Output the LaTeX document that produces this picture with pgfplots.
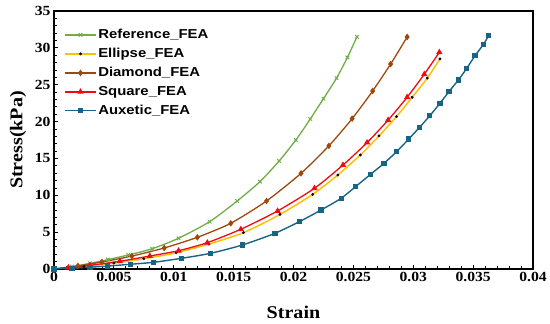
\documentclass[border=0pt]{standalone}
\usepackage{pgfplots}
\pgfplotsset{compat=1.18}
\usepackage{fontspec}
\setmainfont{Liberation Serif}[FakeStretch=1.12]
\newfontfamily\legfont{Liberation Sans}[FakeStretch=1.15]
\definecolor{cref}{HTML}{70AD47}
\definecolor{cell}{HTML}{FFC000}
\definecolor{cdia}{HTML}{9E480E}
\definecolor{csq}{HTML}{F00A14}
\definecolor{caux}{HTML}{176486}
\pgfplotsset{
  LL/.style={legend image code/.code={\draw[mark repeat=2,mark phase=2,##1] plot coordinates {(0cm,0cm) (0.53cm,0cm) (1.06cm,0cm)};}},
}
\begin{document}
\begin{tikzpicture}
\begin{axis}[
  at={(0,0)}, anchor=south west,
  scale only axis, width=479bp, height=258bp,
  xmin=0, xmax=0.04, ymin=0, ymax=35,
  xtick={0,0.005,0.01,0.015,0.02,0.025,0.03,0.035,0.04},
  xticklabels={0,0.005,0.01,0.015,0.02,0.025,0.03,0.035,0.04},
  scaled x ticks=false,
  ytick={0,5,10,15,20,25,30,35},
  minor x tick num=4, minor y tick num=4,
  tick pos=left, tick align=inside,
  major tick length=4bp, minor tick length=3bp,
  tick style={black, line width=0.8pt},
  axis line style={black, line width=1.1pt},
  /pgf/number format/assume math mode=true,
  tick label style={font=\bfseries\fontsize{14}{14}\selectfont},
  xlabel={Strain}, ylabel={Stress(kPa)},
  label style={font=\bfseries\fontsize{18}{18}\selectfont},
  xlabel style={at={(axis description cs:0.5,-0.167)}, anchor=center},
  ylabel style={at={(axis description cs:-0.075,0.5)}, anchor=center},
  legend cell align=left,
  legend style={at={(axis description cs:0.022,0.937)}, anchor=north west,
    draw=none, fill=none, font=\legfont\bfseries\fontsize{13}{13}\selectfont,
    row sep=4.2pt, inner sep=0pt},
  every axis plot/.append style={line width=1.3pt, /tikz/smooth, /tikz/tension=0.4},
]
\addplot[color=cref, line width=1.3pt, mark=x, mark size=2.5pt, mark options={line width=1pt}, LL] coordinates {
(0,0) (0.0015,0.33) (0.003,0.76) (0.0045,1.28) (0.0062,1.9) (0.0082,2.75) (0.0104,4.17) (0.013,6.42) (0.0153,9.23) (0.0172,11.85) (0.0188,14.65) (0.0202,17.5) (0.0214,20.35) (0.0225,23.1) (0.0236,25.9) (0.0245,28.7) (0.0253,31.5)};
\addlegendentry{Reference\_FEA}
\addplot[color=cell, line width=1.5pt, mark=*, mark size=1.3pt, mark options={fill=black, draw=black, line width=0.3pt}, LL] coordinates {
(0,0) (0.0025,0.35) (0.005,0.8) (0.0075,1.4) (0.0102,2.2) (0.01294,3.39) (0.01582,4.93) (0.01887,7.4) (0.02161,10.13) (0.0237,12.75) (0.02558,15.47) (0.02714,18.05) (0.0286,20.67) (0.02991,23.3) (0.03117,25.9) (0.03223,28.5)};
\addlegendentry{Ellipse\_FEA}
\addplot[color=cdia, line width=1.3pt, mark=diamond*, mark size=2.3pt, LL] coordinates {
(0,0) (0.002,0.42) (0.004,0.95) (0.0065,1.75) (0.0092,2.85) (0.01197,4.3) (0.01476,6.2) (0.01775,9.23) (0.02063,12.98) (0.02295,16.7) (0.0249,20.4) (0.02661,24.15) (0.02811,27.8) (0.02949,31.48)};
\addlegendentry{Diamond\_FEA}
\addplot[color=csq, line width=1.3pt, mark=triangle*, mark size=2.4pt, LL] coordinates {
(0,0) (0.0012,0.18) (0.003,0.5) (0.0055,1.05) (0.008,1.76) (0.0104,2.48) (0.0128,3.57) (0.0156,5.39) (0.01867,7.87) (0.02175,10.95) (0.02413,14.1) (0.02614,17.14) (0.0279,20.2) (0.02949,23.3) (0.03092,26.42) (0.03218,29.4)};
\addlegendentry{Square\_FEA}
\addplot[color=caux, line width=1.4pt, mark=square*, mark size=1.9pt, LL] coordinates {
(0,0) (0.0015,0.12) (0.003,0.25) (0.0045,0.4) (0.00637,0.64) (0.00833,0.91) (0.01065,1.45) (0.01308,2.13) (0.01574,3.26) (0.01845,4.84) (0.02049,6.42) (0.0223,8.0) (0.02398,9.59) (0.02518,11.17) (0.02644,12.85) (0.02756,14.34) (0.0286,15.9) (0.02963,17.64) (0.0305,19.17) (0.03139,20.8) (0.03223,22.48) (0.03298,24.06) (0.03377,25.64) (0.03447,27.23) (0.03516,28.94) (0.03587,30.49) (0.03629,31.66)};
\addlegendentry{Auxetic\_FEA}
\end{axis}
\path[use as bounding box] (-54bp,-55bp) rectangle (496bp,269bp);
\end{tikzpicture}
\end{document}
